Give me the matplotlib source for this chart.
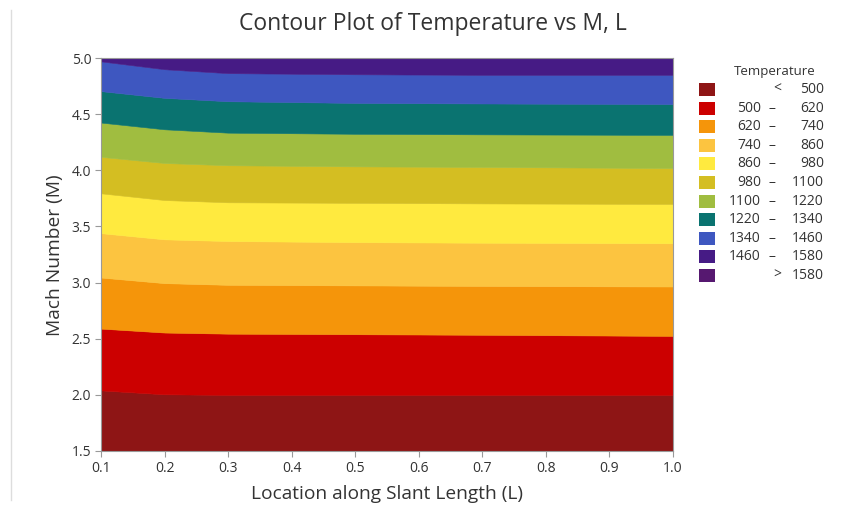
import numpy as np
import matplotlib.pyplot as plt
from matplotlib.patches import Rectangle
from matplotlib.lines import Line2D

plt.rcParams['font.family'] = ['Open Sans', 'DejaVu Sans']

# Location along slant length where the isotherms were read
L = [0.1, 0.2, 0.3, 0.5, 0.7, 1.0]

# Mach number at which each isotherm sits, for every L
m_500 = [2.04, 2.005, 2.00, 2.00, 2.00, 2.00]
m_620 = [2.59, 2.555, 2.545, 2.54, 2.535, 2.525]
m_740 = [3.045, 2.995, 2.98, 2.975, 2.97, 2.965]
m_860 = [3.44, 3.385, 3.37, 3.36, 3.355, 3.35]
m_980 = [3.795, 3.735, 3.715, 3.71, 3.705, 3.70]
m_1100 = [4.12, 4.065, 4.045, 4.035, 4.03, 4.02]
m_1220 = [4.425, 4.365, 4.335, 4.325, 4.32, 4.315]
m_1340 = [4.705, 4.645, 4.615, 4.60, 4.595, 4.59]
m_1460 = [4.97, 4.90, 4.865, 4.855, 4.85, 4.85]

m_min, m_max = 1.5, 5.0

band_colors = ['#8E1515', '#CC0000', '#F5950A', '#FCC440', '#FFEA3F',
               '#D4BE22', '#A0BD40', '#0A7370', '#3E57C0', '#461B85',
               '#561870']
legend_labels = [('', '<', '500'), ('500', '–', '620'), ('620', '–', '740'),
                 ('740', '–', '860'), ('860', '–', '980'), ('980', '–', '1100'),
                 ('1100', '–', '1220'), ('1220', '–', '1340'),
                 ('1340', '–', '1460'), ('1460', '–', '1580'), ('', '>', '1580')]

isotherms = [m_500, m_620, m_740, m_860, m_980, m_1100, m_1220, m_1340, m_1460]
lower = [[m_min] * len(L)] + isotherms
upper = isotherms + [[m_max] * len(L)]

fig = plt.figure(figsize=(8.44, 5.08), dpi=100)
ax = fig.add_axes([101 / 844, 1 - 451 / 508, 572 / 844, 393 / 508])

# filled temperature bands between consecutive isotherms
for lo, hi, col in zip(lower, upper, band_colors):
    ax.fill_between(L, lo, hi, facecolor=col, edgecolor=col, linewidth=0.4)

ax.set_xlim(0.1, 1.0)
ax.set_ylim(m_min, m_max)
xt = np.arange(0.1, 1.01, 0.1)
yt = np.arange(1.5, 5.01, 0.5)
ax.set_xticks(xt)
ax.set_yticks(yt)
ax.set_xticklabels([f'{v:.1f}' for v in xt])
ax.set_yticklabels([f'{v:.1f}' for v in yt])
ax.tick_params(direction='out', length=4, width=0.8, color='#999999',
               labelsize=10, labelcolor='#333333', pad=3)
for sp in ax.spines.values():
    sp.set_color('#999999')
    sp.set_linewidth(0.8)
    sp.set_zorder(5)

fig.text(387 / 844, 1 - 494 / 508, 'Location along Slant Length (L)',
         ha='center', va='center', fontsize=13.8, color='#333333')
fig.text(55 / 844, 1 - 255 / 508, 'Mach Number (M)', rotation=90,
         ha='center', va='center', fontsize=13.8, color='#333333')

fig.text(433 / 844, 1 - 24 / 508, 'Contour Plot of Temperature vs M, L',
         ha='center', va='center', fontsize=16.5, color='#333333')

# legend drawn by hand in pixel coordinates
def fx(px):
    return px / 844

def fy(py):
    return 1 - py / 508

fig.text(fx(775), fy(72), 'Temperature', ha='center', va='center',
         fontsize=9.5, color='#333333')
for i, (col, (lo, sep, hi)) in enumerate(zip(band_colors, legend_labels)):
    yc = 89.5 + i * 18.6
    fig.patches.append(Rectangle((fx(699), fy(yc + 6.5)), 16 / 844, 13 / 508,
                                 transform=fig.transFigure, facecolor=col,
                                 edgecolor='none'))
    if lo:
        fig.text(fx(761), fy(yc), lo, ha='right', va='center', fontsize=10,
                 color='#333333')
    fig.text(fx(772) if sep == '–' else fx(777), fy(yc), sep, ha='center',
             va='center', fontsize=10, color='#333333')
    fig.text(fx(824), fy(yc), hi, ha='right', va='center', fontsize=10,
             color='#333333')

# thin border on the left side of the page
fig.add_artist(Line2D([fx(11), fx(11)], [fy(10), fy(500)],
                      transform=fig.transFigure, color='#DDDDDD', lw=1))

fig.savefig('out.png', dpi=100)
